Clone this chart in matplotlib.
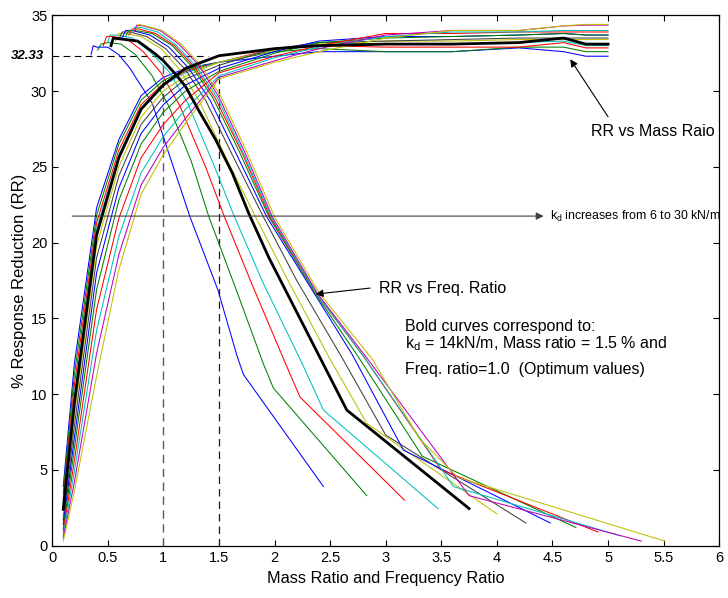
import matplotlib
matplotlib.use("Agg")
from matplotlib import pyplot as plt

plt.rcParams['font.family'] = ['Liberation Sans', 'DejaVu Sans']
plt.rcParams['mathtext.fontset'] = 'custom'
plt.rcParams['mathtext.rm'] = 'Liberation Sans'
plt.rcParams['mathtext.it'] = 'Liberation Sans:italic'

# damper stiffness kd (kN/m), one curve of each family per value
kd = [6, 8, 10, 12, 14, 16, 18, 20, 22, 24, 26, 28, 30]
line_codes = ['b', 'g', 'r', 'c', 'bold', 'y', 'k', 'b', 'g', 'r', 'c', 'm', 'y']
matlab = {'b': (0, 0, 1), 'g': (0, 0.5, 0), 'r': (1, 0, 0), 'c': (0, 0.75, 0.75),
          'm': (0.75, 0, 0.75), 'y': (0.75, 0.75, 0), 'k': (0.25, 0.25, 0.25)}

# RR vs mass ratio
mass_x = [0.1, 0.2, 0.4, 0.6, 0.8, 1.0, 1.2, 1.5, 2.0, 2.4, 3.0, 3.6, 4.2, 4.6, 4.8, 5.0]
mass_rr = [
    [3.9, 12.0, 22.3, 26.8, 29.7, 30.9, 31.5, 31.9, 32.3, 32.6, 32.6, 32.6, 32.85, 32.6, 32.3, 32.3],
    [3.5, 11.3, 21.8, 26.5, 29.4, 30.7, 31.4, 31.9, 32.6, 32.8, 32.6, 32.6, 32.9, 32.9, 32.6, 32.6],
    [3.1, 10.6, 21.3, 26.1, 29.1, 30.5, 31.3, 31.9, 32.8, 33.0, 32.9, 32.9, 32.9, 33.2, 32.85, 32.85],
    [2.8, 10.0, 20.9, 25.8, 28.9, 30.4, 31.2, 31.9, 32.7, 33.2, 33.1, 33.1, 33.2, 33.3, 33.0, 33.0],
    [2.4, 9.4, 20.5, 25.6, 28.8, 30.4, 31.5, 32.33, 32.8, 33.0, 33.1, 33.1, 33.2, 33.5, 33.1, 33.1],
    [2.0, 8.6, 19.8, 25.0, 28.3, 30.0, 31.0, 31.9, 32.7, 33.1, 33.3, 33.3, 33.4, 33.4, 33.4, 33.4],
    [1.7, 7.9, 19.0, 24.4, 27.8, 29.6, 30.8, 31.7, 32.8, 33.2, 33.3, 33.4, 33.5, 33.5, 33.5, 33.5],
    [1.4, 7.1, 18.0, 23.6, 27.2, 29.1, 30.4, 31.5, 32.6, 33.3, 33.6, 33.6, 33.7, 33.8, 33.7, 33.7],
    [1.1, 6.4, 16.9, 22.8, 26.5, 28.6, 30.0, 31.3, 32.5, 33.2, 33.5, 33.6, 33.7, 33.8, 33.7, 33.7],
    [0.9, 5.6, 15.6, 21.6, 25.6, 27.8, 29.4, 31.2, 32.3, 33.0, 33.8, 33.8, 33.9, 33.9, 33.9, 33.9],
    [0.7, 4.9, 14.2, 20.4, 24.6, 27.0, 28.8, 31.0, 32.2, 32.9, 33.6, 33.9, 33.9, 34.0, 34.0, 34.0],
    [0.5, 4.2, 12.7, 19.2, 23.8, 26.3, 28.2, 30.9, 32.0, 32.8, 33.7, 34.0, 34.0, 34.3, 34.35, 34.35],
    [0.3, 3.6, 11.2, 18.2, 23.2, 25.8, 27.9, 30.8, 31.9, 32.6, 33.5, 34.0, 34.0, 34.3, 34.4, 34.4],
]

# RR vs frequency ratio
freq_x = [
    [0.35, 0.37, 0.40, 0.50, 0.60, 0.70, 0.90, 1.04, 1.24, 1.49, 1.66, 1.72, 2.44],
    [0.41, 0.44, 0.50, 0.62, 0.75, 0.90, 1.05, 1.25, 1.41, 1.65, 1.90, 1.99, 2.83],
    [0.46, 0.49, 0.55, 0.68, 0.82, 0.98, 1.15, 1.38, 1.55, 1.80, 2.10, 2.23, 3.17],
    [0.50, 0.52, 0.58, 0.72, 0.88, 1.05, 1.22, 1.45, 1.64, 1.90, 2.25, 2.44, 3.47],
    [0.53, 0.55, 0.77, 0.92, 1.00, 1.10, 1.20, 1.32, 1.47, 1.62, 1.77, 1.95, 2.65, 3.75],
    [0.57, 0.60, 0.66, 0.80, 0.98, 1.15, 1.32, 1.55, 1.83, 2.10, 2.50, 2.83, 4.00],
    [0.60, 0.63, 0.70, 0.85, 1.02, 1.20, 1.38, 1.62, 1.90, 2.20, 2.60, 3.00, 4.26],
    [0.63, 0.66, 0.72, 0.88, 1.05, 1.23, 1.42, 1.66, 1.93, 2.37, 2.70, 3.16, 4.48],
    [0.66, 0.69, 0.75, 0.90, 1.08, 1.26, 1.45, 1.69, 1.95, 2.37, 2.75, 3.33, 4.71],
    [0.69, 0.72, 0.78, 0.93, 1.10, 1.28, 1.47, 1.71, 1.96, 2.38, 2.80, 3.50, 4.91],
    [0.71, 0.74, 0.80, 0.95, 1.12, 1.30, 1.49, 1.72, 1.97, 2.38, 2.82, 3.61, 5.11],
    [0.74, 0.76, 0.82, 0.97, 1.14, 1.32, 1.50, 1.73, 1.98, 2.39, 2.85, 3.75, 5.30],
    [0.76, 0.78, 0.84, 0.99, 1.16, 1.34, 1.52, 1.75, 2.00, 2.40, 2.88, 3.30, 3.65, 5.51],
]
freq_rr = [
    [32.4, 33.0, 32.9, 32.9, 32.4, 31.5, 29.2, 26.1, 21.7, 16.9, 12.6, 11.3, 3.9],
    [32.7, 33.1, 33.2, 33.1, 32.4, 31.0, 29.0, 25.4, 21.7, 17.0, 12.0, 10.4, 3.3],
    [33.0, 33.6, 33.6, 33.4, 32.6, 31.2, 29.0, 25.0, 21.7, 17.2, 12.0, 9.8, 3.0],
    [33.2, 33.7, 33.7, 33.5, 32.6, 31.3, 29.2, 25.2, 21.7, 17.3, 12.0, 8.95, 2.45],
    [33.0, 33.5, 33.3, 32.5, 32.0, 31.2, 30.3, 28.7, 26.8, 24.6, 21.9, 19.0, 8.95, 2.45],
    [33.3, 33.8, 33.8, 33.6, 32.8, 31.4, 29.4, 25.8, 21.7, 17.8, 12.3, 8.07, 2.1],
    [33.4, 33.9, 33.9, 33.6, 32.8, 31.4, 29.4, 25.8, 21.7, 17.5, 12.5, 7.3, 1.5],
    [33.5, 34.0, 34.0, 33.7, 32.9, 31.5, 29.4, 25.8, 21.7, 16.5, 12.6, 6.3, 1.5],
    [33.6, 34.0, 34.0, 33.8, 33.0, 31.6, 29.5, 25.9, 21.7, 16.6, 12.5, 5.9, 1.2],
    [33.7, 34.1, 34.1, 33.8, 33.0, 31.6, 29.5, 25.9, 21.7, 16.6, 12.5, 5.0, 0.9],
    [33.8, 34.2, 34.2, 33.9, 33.0, 31.6, 29.5, 25.9, 21.7, 16.6, 12.3, 3.9, 0.65],
    [33.9, 34.35, 34.3, 34.0, 33.1, 31.7, 29.6, 26.0, 21.7, 16.6, 12.2, 3.3, 0.3],
    [34.0, 34.4, 34.3, 34.0, 33.1, 31.7, 29.6, 26.0, 21.7, 16.7, 12.3, 7.1, 4.5, 0.3],
]

opt_rr = 32.33
opt_freq = 1.0
opt_mass = 1.5

fig = plt.figure(figsize=(7.28, 5.98), dpi=100)
ax = fig.add_axes([0.0716, 0.0875, 0.9164, 0.8869])

for i in range(len(kd)):
    code = line_codes[i]
    if code == 'bold':
        style = dict(color='k', lw=2.0, zorder=4)
    else:
        style = dict(color=matlab[code], lw=0.75, zorder=3)
    ax.plot(mass_x, mass_rr[i], **style)
    ax.plot(freq_x[i], freq_rr[i], **style)

# optimum guide lines
ax.plot([0, 1.4], [opt_rr, opt_rr], ls=(0, (6, 4)), color='k', lw=0.8, zorder=2)
ax.plot([opt_freq, opt_freq], [0, opt_rr], ls=(0, (6, 4)), color='0.35', lw=1.0, zorder=2)
ax.plot([opt_mass, opt_mass], [0, 32.0], ls=(0, (6, 4)), color='#3a1010', lw=0.9, zorder=2)

ax.text(-0.07, opt_rr, '32.33', ha='right', va='center', fontsize=9.5,
        fontweight='bold', fontstyle='italic')

arrow = dict(arrowstyle='-|>', color='k', lw=0.8, mutation_scale=11,
             shrinkA=0, shrinkB=0)
hor = dict(arrow, color='0.25')
ax.annotate('', xy=(4.42, 21.75), xytext=(0.18, 21.75), arrowprops=hor, zorder=6)
ax.text(4.48, 21.75, r'k$_\mathregular{d}$ increases from 6 to 30 kN/m',
        va='center', fontsize=8.9)

ax.annotate('', xy=(2.37, 16.6), xytext=(2.86, 17.0), arrowprops=arrow, zorder=6)
ax.text(2.94, 17.0, 'RR vs Freq. Ratio', va='center', fontsize=11.5)

ax.annotate('', xy=(4.66, 32.1), xytext=(5.0, 28.3), arrowprops=arrow, zorder=6)
ax.text(4.85, 27.3, 'RR vs Mass Raio', va='center', fontsize=11.5)

ax.text(3.17, 14.45, 'Bold curves correspond to:', va='center', fontsize=11.5)
ax.text(3.17, 13.35, r'k$_\mathregular{d}$ = 14kN/m, Mass ratio = 1.5 % and',
        va='center', fontsize=11.5)
ax.text(3.17, 11.65, 'Freq. ratio=1.0  (Optimum values)', va='center', fontsize=11.5)

ax.set_xlim(0, 6)
ax.set_ylim(0, 35)
ax.set_xticks([0, 0.5, 1, 1.5, 2, 2.5, 3, 3.5, 4, 4.5, 5, 5.5, 6])
ax.set_xticklabels(['0', '0.5', '1', '1.5', '2', '2.5', '3', '3.5', '4', '4.5', '5', '5.5', '6'])
ax.set_yticks([0, 5, 10, 15, 20, 25, 30, 35])
ax.tick_params(direction='in', top=True, right=True, length=4, width=0.8, labelsize=10.5)
for s in ax.spines.values():
    s.set_linewidth(0.9)

ax.set_xlabel('Mass Ratio and Frequency Ratio', fontsize=11.7, labelpad=5)
ax.set_ylabel('% Response Reduction (RR)', fontsize=12, labelpad=3)

fig.savefig('out.png', dpi=100)
